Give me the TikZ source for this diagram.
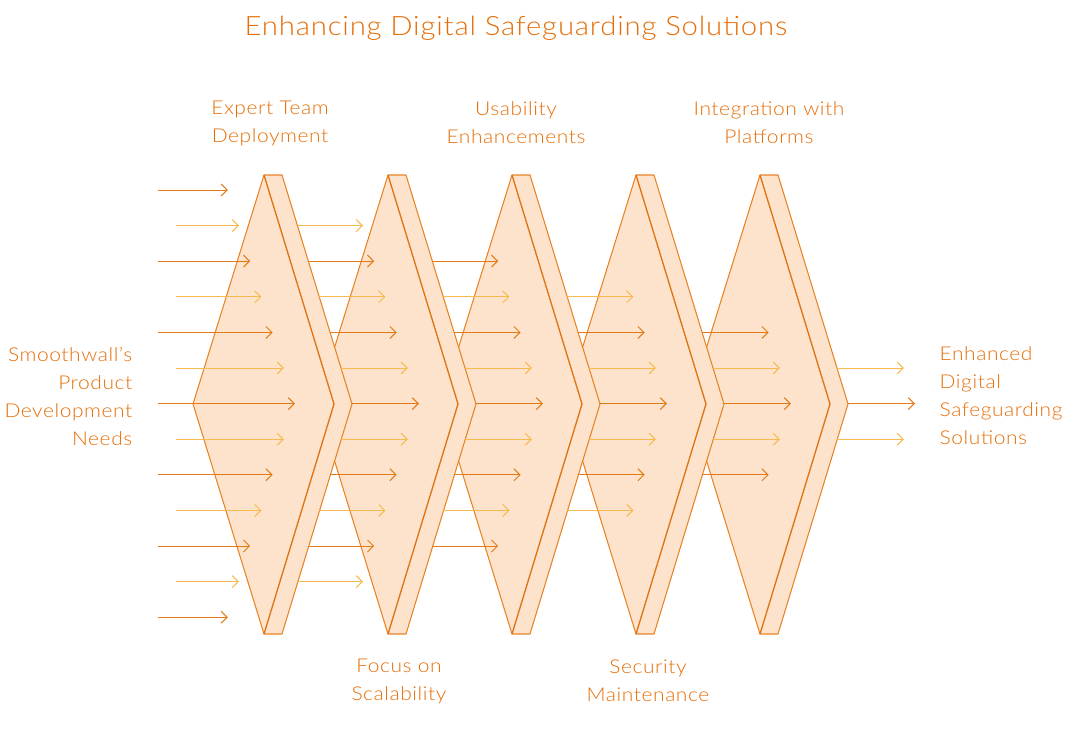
\documentclass[tikz,border=0pt]{standalone}
\usepackage{fontspec}
\setmainfont{Lato}[UprightFont=* Light, FakeStretch=1.1, LetterSpace=3]
\usetikzlibrary{arrows.meta}
\definecolor{ChevLine}{RGB}{232,132,38}
\definecolor{ChevFold}{RGB}{222,116,20}
\definecolor{ChevFill}{RGB}{253,227,204}
\definecolor{TextOrange}{RGB}{230,110,8}
\definecolor{ArrDark}{RGB}{228,122,22}
\definecolor{ArrLight}{RGB}{246,186,78}

\begin{document}
\begin{tikzpicture}[x=0.75pt, y=-0.75pt, >={Straight Barb[length=4.5pt,width=9pt]},
  chev/.style={draw=ChevLine, line width=0.8pt, fill=ChevFill, line join=miter},
  fold/.style={draw=ChevFold, line width=1pt},
  flow/.style={->, line width=0.75pt},
  lbl/.style={text=TextOrange, font=\fontsize{14.3}{21}\selectfont, align=center}]

  \useasboundingbox (0,0) rectangle (1084,749);

  % --- chevrons, right one first so the left ones sit on top ---
  \foreach \k in {4,3,2,1,0} {
    \pgfmathsetmacro{\t}{264+124*\k}
    \filldraw[chev] (\t,175) -- ++(18,0) -- ++(70,229) -- ++(-70,230) -- ++(-18,0) -- ++(-71,-230) -- cycle;
    \draw[fold] (\t,175) -- ++(70,229) -- (\t,634);
  }

  % --- flow arrows, fewer at each stage ---
  \foreach \k in {0,...,5} {
    \pgfmathtruncatemacro{\n}{6-\k}
    \foreach \d in {-\n,...,\n} {
      \pgfmathtruncatemacro{\a}{abs(\d)}
      \pgfmathsetmacro{\y}{403.6+35.6*\d}
      \ifnum\k=0
        \pgfmathsetmacro{\xs}{ifthenelse(mod(\a,2)==1,176,158)}
      \else
        \pgfmathsetmacro{\xs}{264+124*(\k-1)+88-70*\a*35.6/229}
      \fi
      \pgfmathsetmacro{\xe}{295+124*\k-11.2*\a}
      \ifodd\a
        \draw[flow, ArrLight] (\xs,\y) -- (\xe,\y);
      \else
        \draw[flow, ArrDark] (\xs,\y) -- (\xe,\y);
      \fi
    }
  }

  % --- labels ---
  \node[lbl, font=\fontsize{20}{24}\selectfont] (title) at (516,28) {Enhancing Digital Safeguarding Solutions};
  \node[lbl] (expert) at (270,123) {Expert Team\\Deployment};
  \node[lbl] (usab)   at (516,123) {Usability\\Enhancements};
  \node[lbl] (integ)  at (769,123) {Integration with\\Platforms};
  \node[lbl] (scal)   at (399,681) {Focus on\\Scalability};
  \node[lbl] (secur)  at (648,681) {Security\\Maintenance};
  \node[lbl, anchor=east, align=right] (needs) at (137,396) {Smoothwall’s\\Product\\Development\\Needs};
  \node[lbl, anchor=west, align=left]  (goal)  at (935,396) {Enhanced\\Digital\\Safeguarding\\Solutions};
\end{tikzpicture}
\end{document}
